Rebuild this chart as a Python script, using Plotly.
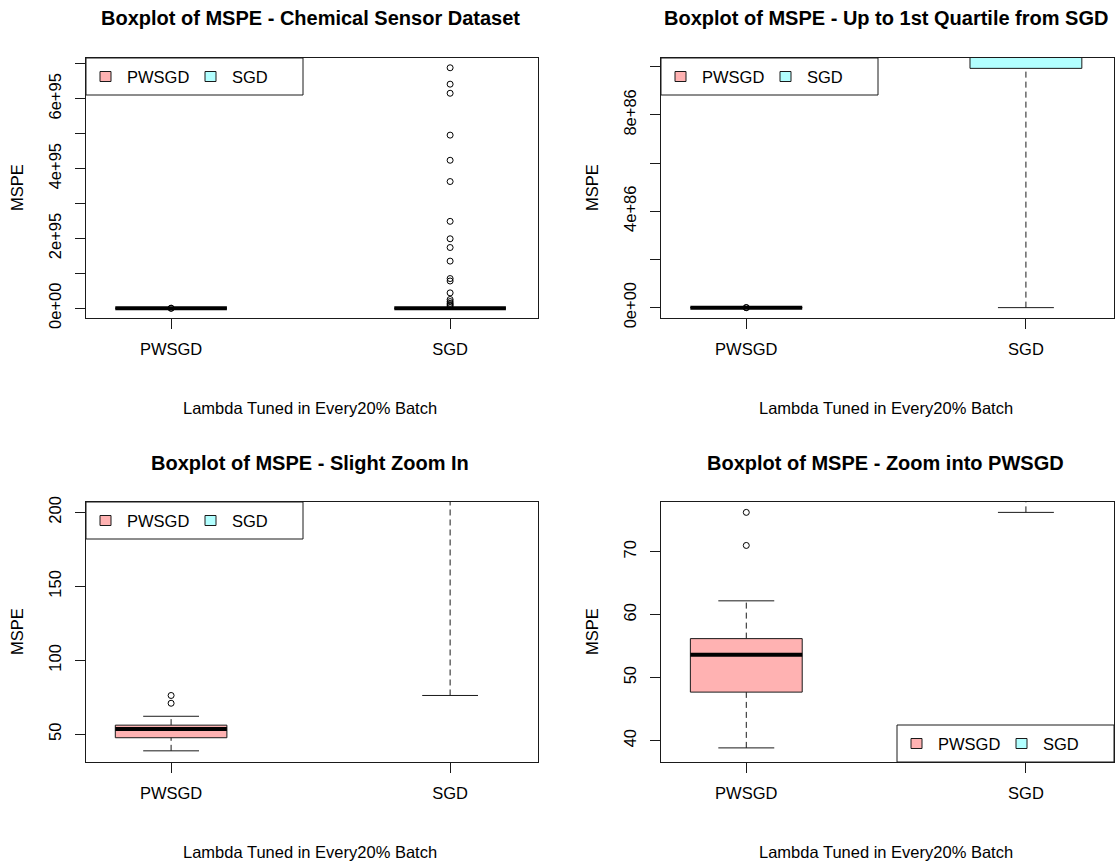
import plotly.graph_objects as go

W, H = 1115, 867

# ---------------- data ----------------
categories = ["PWSGD", "SGD"]
# boxplot statistics: lower whisker, Q1, median, Q3, upper whisker
pwsgd_stats = [38.84, 47.7, 53.65, 56.2, 62.2]
sgd_stats = [76.25, 9.93e86, 2.6e89, 3.1e91, 6.4e92]
pwsgd_outliers = [71.0, 76.25]
sgd_outliers = [6.89e95, 6.42e95, 6.16e95, 4.96e95, 4.24e95, 3.63e95, 2.49e95,
                1.99e95, 1.74e95, 1.35e95, 0.85e95, 0.78e95, 0.44e95, 0.25e95,
                0.19e95, 0.14e95, 0.10e95, 0.06e95]
fill_colors = ["rgba(255,0,0,0.3)", "rgba(0,255,255,0.3)"]

titles = ["Boxplot of MSPE - Chemical Sensor Dataset",
          "Boxplot of MSPE - Up to 1st Quartile from SGD",
          "Boxplot of MSPE - Slight Zoom In",
          "Boxplot of MSPE - Zoom into PWSGD"]
x_title = "Lambda Tuned in Every20% Batch"
y_title = "MSPE"

y_ranges = [[-0.28e95, 7.17e95], [-0.43e86, 10.36e86], [31.3, 207.0], [36.6, 77.9]]
y_tickvals = [[0, 1e95, 2e95, 3e95, 4e95, 5e95, 6e95, 7e95],
              [0, 2e86, 4e86, 6e86, 8e86, 1e87],
              [50, 100, 150, 200],
              [40, 50, 60, 70]]
y_ticktext = [["0e+00", "", "2e+95", "", "4e+95", "", "6e+95", ""],
              ["0e+00", "", "4e+86", "", "8e+86", ""],
              ["50", "100", "150", "200"],
              ["40", "50", "60", "70"]]
# legend location per panel
legend_pos = ["topleft", "topleft", "topleft", "bottomright"]

# ---------------- layout geometry (pixels) ----------------
panels_px = [(86, 538, 58, 318), (661, 1114, 58, 318),
             (86, 538, 502, 762), (661, 1114, 502, 762)]
X_RANGE = [0.695, 2.315]
HW = 0.2    # half box width (data units)
CW = 0.1    # half cap width
FONT = "Liberation Sans, Arial, sans-serif"
FS = 16.5
LINE = "#1a1a1a"

def px_x(p):
    return p / W

def px_y(p):
    return 1 - p / H

stats_all = [pwsgd_stats, sgd_stats]
outliers_all = [pwsgd_outliers, sgd_outliers]

fig = go.Figure()
layout = dict(width=W, height=H, margin=dict(l=0, r=0, t=0, b=0),
              paper_bgcolor="white", plot_bgcolor="white",
              showlegend=False, font=dict(family=FONT, size=FS, color="black"))
shapes = []
annotations = []

for k in range(4):
    xa = "x" if k == 0 else f"x{k+1}"
    ya = "y" if k == 0 else f"y{k+1}"
    xl, xr, yt, yb = panels_px[k]
    lo, hi = y_ranges[k]
    pad = (hi - lo) * 0.5

    def clip(v):
        # keep far off-panel values just outside the visible area (R clips them too)
        return min(max(v, lo - pad), hi + pad)

    for i, cat in enumerate(categories):
        xc = i + 1
        lw, q1, med, q3, uw = [clip(v) for v in stats_all[i]]
        common = dict(xaxis=xa, yaxis=ya, hoverinfo="skip", showlegend=False)
        # whiskers (dashed)
        fig.add_trace(go.Scatter(x=[xc, xc, None, xc, xc], y=[lw, q1, None, q3, uw],
                                 mode="lines", line=dict(color=LINE, width=1, dash="6px,4px"),
                                 **common))
        # caps
        fig.add_trace(go.Scatter(x=[xc - CW, xc + CW, None, xc - CW, xc + CW],
                                 y=[lw, lw, None, uw, uw], mode="lines",
                                 line=dict(color=LINE, width=1), **common))
        # box
        fig.add_trace(go.Scatter(x=[xc - HW, xc + HW, xc + HW, xc - HW, xc - HW],
                                 y=[q1, q1, q3, q3, q1], mode="lines", fill="toself",
                                 fillcolor=fill_colors[i], line=dict(color=LINE, width=1),
                                 **common))
        # median
        fig.add_trace(go.Scatter(x=[xc - HW, xc + HW], y=[med, med], mode="lines",
                                 line=dict(color="black", width=4), **common))
        # outliers (only those inside this panel's y-range are visible)
        vis = [v for v in outliers_all[i] if lo <= v <= hi]
        fig.add_trace(go.Scatter(x=[xc] * len(vis), y=vis, mode="markers",
                                 marker=dict(symbol="circle-open", size=6,
                                             color="black", line=dict(width=1)),
                                 **common))

    axis_common = dict(showline=True, mirror=True, linecolor=LINE, linewidth=1,
                       ticks="outside", ticklen=10, tickcolor=LINE, showgrid=False,
                       zeroline=False, automargin=False,
                       tickfont=dict(family=FONT, size=FS, color="black"))
    layout["xaxis" if k == 0 else f"xaxis{k+1}"] = dict(
        domain=[px_x(xl), px_x(xr)], range=X_RANGE, anchor=ya,
        tickvals=[1, 2], ticktext=categories, ticklabelstandoff=6, **axis_common)
    layout["yaxis" if k == 0 else f"yaxis{k+1}"] = dict(
        domain=[px_y(yb), px_y(yt)], range=y_ranges[k], anchor=xa,
        tickvals=y_tickvals[k], ticktext=y_ticktext[k], tickangle=-90,
        ticklabelstandoff=7, **axis_common)

    xc_px = (xl + xr) / 2
    annotations.append(dict(text=f"<b>{titles[k]}</b>", x=px_x(xc_px - 2), y=px_y(yt - 39.5),
                            xref="paper", yref="paper", showarrow=False,
                            xanchor="center", yanchor="middle",
                            font=dict(family=FONT, size=20, color="black")))
    annotations.append(dict(text=x_title, x=px_x(xc_px - 2), y=px_y(yb + 90),
                            xref="paper", yref="paper", showarrow=False,
                            xanchor="center", yanchor="middle",
                            font=dict(family=FONT, size=FS, color="black")))
    annotations.append(dict(text=y_title, x=px_x(xl - 69), y=px_y((yt + yb) / 2),
                            xref="paper", yref="paper", showarrow=False, textangle=-90,
                            xanchor="center", yanchor="middle",
                            font=dict(family=FONT, size=FS, color="black")))

    # legend box
    LW_, LH_ = 217, 37
    if legend_pos[k] == "topleft":
        lx0, ly0 = xl, yt
    else:
        lx0, ly0 = xr - LW_, yb - LH_
    shapes.append(dict(type="rect", xref="paper", yref="paper",
                       x0=px_x(lx0), x1=px_x(lx0 + LW_), y0=px_y(ly0), y1=px_y(ly0 + LH_),
                       line=dict(color=LINE, width=1), fillcolor="white", layer="above"))
    cy = ly0 + LH_ / 2
    for i, cat in enumerate(categories):
        sq_cx = lx0 + 19.5 + 105 * i
        shapes.append(dict(type="rect", xref="paper", yref="paper",
                           x0=px_x(sq_cx - 5.5), x1=px_x(sq_cx + 5.5),
                           y0=px_y(cy - 5), y1=px_y(cy + 5),
                           line=dict(color=LINE, width=1), fillcolor=fill_colors[i],
                           layer="above"))
        annotations.append(dict(text=cat, x=px_x(lx0 + 39 + 105 * i), y=px_y(cy),
                                xref="paper", yref="paper", showarrow=False,
                                xanchor="left", yanchor="middle",
                                font=dict(family=FONT, size=FS, color="black")))

layout["shapes"] = shapes
layout["annotations"] = annotations
fig.update_layout(**layout)
fig.write_html("out.html", config={"displayModeBar": False},
               post_script="document.body.style.margin='0';document.body.style.overflow='hidden';")
